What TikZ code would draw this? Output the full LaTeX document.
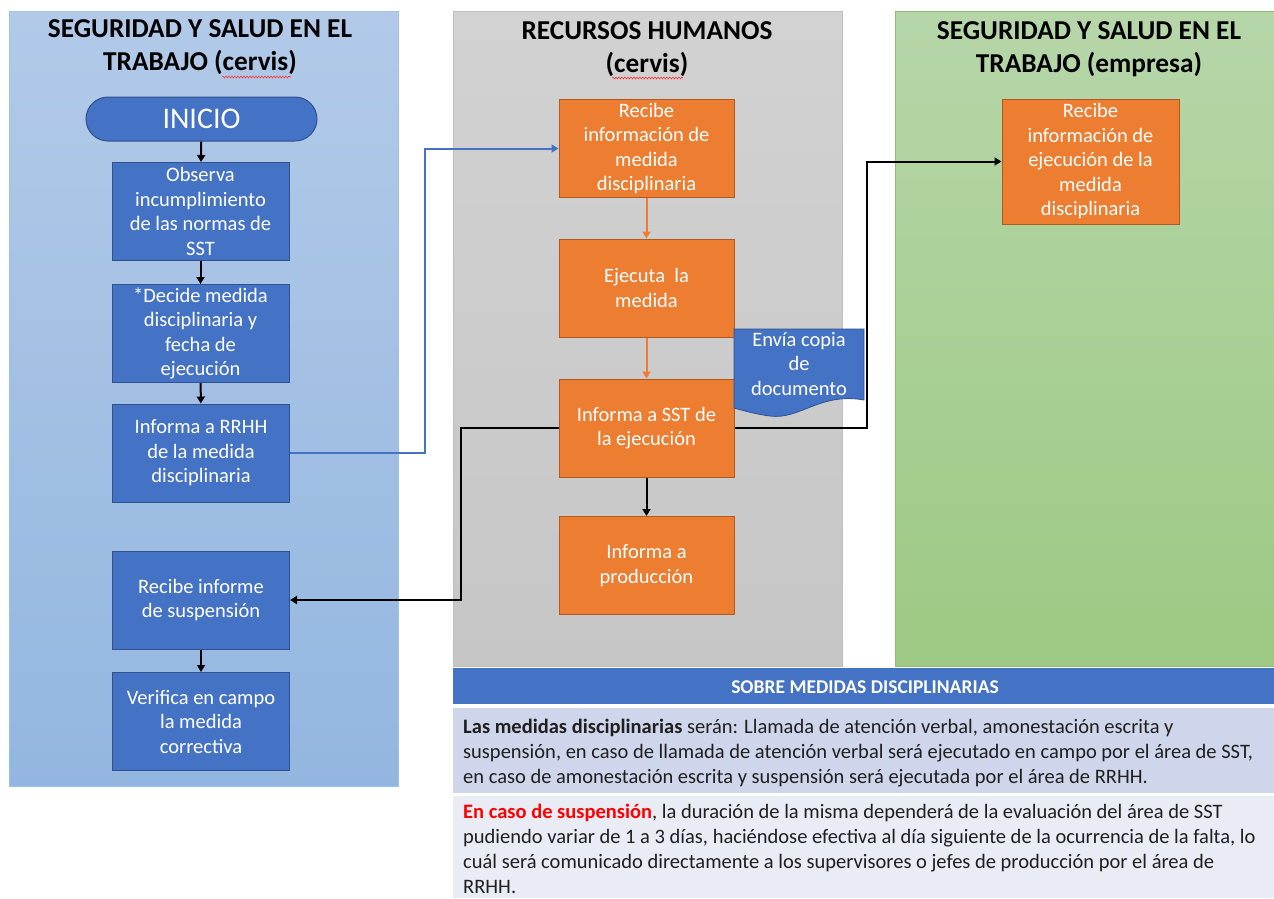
\documentclass[tikz,border=0pt]{standalone}
\usepackage{fontspec}
\setmainfont{Carlito}
\usetikzlibrary{arrows.meta,decorations.pathmorphing}
\definecolor{bxblue}{HTML}{4472C4}
\definecolor{bxblueb}{HTML}{2F528F}
\definecolor{bxor}{HTML}{ED7D31}
\definecolor{bxorb}{HTML}{AE5A21}
\definecolor{laneAt}{HTML}{B2CAE8}
\definecolor{laneAb}{HTML}{93B6E0}
\definecolor{laneAl}{HTML}{9DC3E6}
\definecolor{laneBt}{HTML}{D2D2D2}
\definecolor{laneBb}{HTML}{C6C6C6}
\definecolor{laneBl}{HTML}{BFBFBF}
\definecolor{laneCt}{HTML}{B6D6A9}
\definecolor{laneCb}{HTML}{9DC983}
\definecolor{laneCl}{HTML}{8CC06C}
\definecolor{parA}{HTML}{CFD5EA}
\definecolor{parB}{HTML}{E9EBF5}
\definecolor{txtdark}{HTML}{1F1F1F}
\tikzset{
  lanetitle/.style={align=center,font=\fontsize{27.3}{33}\selectfont\bfseries,text=black},
  boxfont/.style={font=\fontsize{20.5}{24.5}\selectfont},
  bluebox/.style={draw=bxblueb,fill=bxblue,line width=1pt,text=white,align=center,
    minimum width=177pt,minimum height=98pt,inner sep=1pt,boxfont},
  orbox/.style={draw=bxorb,fill=bxor,line width=1pt,text=white,align=center,
    minimum width=175pt,minimum height=98pt,inner sep=1pt,boxfont},
  blkarrow/.style={draw=black,line width=2pt,-{Triangle[length=7pt,width=8pt]}},
  orarrow/.style={draw=bxor,line width=2pt,-{Triangle[length=7pt,width=8pt]}},
  bluearrow/.style={draw=bxblue,line width=2pt,-{Triangle[length=7pt,width=8pt]}},
  squig/.style={draw=red!80,line width=0.6pt,decorate,decoration={snake,amplitude=0.9pt,segment length=3pt}},
  partext/.style={anchor=north west,align=left,text=txtdark,inner sep=0pt,font=\fontsize{20.5}{25}\selectfont}
}
\begin{document}
\begin{tikzpicture}[x=1pt,y=-1pt]
\useasboundingbox[fill=white] (0,0) rectangle (1274,898);
% lanes
\shade[top color=laneAt,bottom color=laneAb] (9,11) rectangle (398,786);
\draw[laneAl,line width=1pt] (9,11) rectangle (398,786);
\shade[top color=laneBt,bottom color=laneBb] (453,11) rectangle (842,666);
\draw[laneBl,line width=1pt] (453,11) rectangle (842,666);
\shade[top color=laneCt,bottom color=laneCb] (895,11) rectangle (1274,666);
\draw[laneCl,line width=1pt] (895,11) rectangle (1274,666);
% titles
\node[lanetitle] (t1) at (200,47) {SEGURIDAD Y SALUD EN EL\\TRABAJO (cervis)};
\node[lanetitle] (t2) at (647,49) {RECURSOS HUMANOS\\(cervis)};
\node[lanetitle] (t3) at (1089,49) {SEGURIDAD Y SALUD EN EL\\TRABAJO (empresa)};
\draw[squig] (222,77) -- (291,77);
\draw[squig] (612,78) -- (683,78);
% lane 1
\node[draw=bxblueb,fill=bxblue,line width=1pt,rounded corners=22pt,minimum width=231pt,minimum height=44pt,
  text=white,font=\fontsize{30}{34}\selectfont] (ini) at (201.5,119) {INICIO};
\node[bluebox] (obs) at (200.5,211.5) {Observa\\incumplimiento\\de las normas de\\SST};
\node[bluebox] (dec) at (200.5,333.5) {*Decide medida\\disciplinaria y\\fecha de\\ejecución};
\node[bluebox] (rrhh) at (201,453) {Informa a RRHH\\de la medida\\disciplinaria};
\node[bluebox] (sus) at (201,600) {Recibe informe\\de suspensión};
\node[bluebox] (ver) at (201,721.5) {Verifica en campo\\la medida\\correctiva};
\draw[blkarrow] (ini) -- (obs);
\draw[blkarrow] (obs) -- (dec);
\draw[blkarrow] (dec) -- (rrhh);
\draw[blkarrow] (sus) -- (ver);
% lane 2
\node[orbox] (rec1) at (646.5,148.5) {Recibe\\información de\\medida\\disciplinaria};
\node[orbox] (eje) at (646.5,288) {Ejecuta~~la\\medida};
\node[orbox] (sst) at (646.5,428) {Informa a SST de\\la ejecución};
\node[orbox] (pro) at (646.5,565.5) {Informa a\\producción};
\draw[orarrow] (rec1) -- (eje);
\draw[orarrow] (eje) -- (sst);
\draw[blkarrow] (sst) -- (pro);
% lane 3
\node[orbox,minimum width=177pt,minimum height=125pt] (rec3) at (1090.5,161.5) {Recibe\\información de\\ejecución de la\\medida\\disciplinaria};
% document shape
\fill[bxblue,draw=bxblueb,line width=0.8pt] (734,329) -- (864,329) -- (864,400)
  .. controls (820,392) and (800,420) .. (770,416) .. controls (755,414) and (745,411) .. (734,408) -- cycle;
\node[text=white,align=center,boxfont] (env) at (799,364) {Envía copia\\de\\documento};
% connectors
\coordinate (cA) at (425,453);
\coordinate (cB) at (867,428);
\coordinate (cC) at (461,428);
\draw[bluearrow] (rrhh.east) -- (cA) |- (rec1.west);
\draw[blkarrow] (sst.east) -- (cB) |- (rec3.west);
\draw[blkarrow] (sst.west) -- (cC) |- (sus.east);
% bottom panel
\fill[bxblue] (453,668) rectangle (1274,704);
\node[text=white,font=\fontsize{19.5}{22}\selectfont\bfseries] (hdr) at (865,687) {SOBRE MEDIDAS DISCIPLINARIAS};
\fill[parA] (453,708) rectangle (1274,793);
\fill[parB] (453,796) rectangle (1274,898);
\node[partext] (p1) at (463,718.5) {\textbf{Las medidas disciplinarias} serán: Llamada de atención verbal, amonestación escrita y\\
suspensión, en caso de llamada de atención verbal será ejecutado en campo por el área de SST,\\
en caso de amonestación escrita y suspensión será ejecutada por el área de RRHH.};
\node[partext] (p2) at (463,804) {{\color{red}\textbf{En caso de suspensión}}, la duración de la misma dependerá de la evaluación del área de SST\\
pudiendo variar de 1 a 3 días, haciéndose efectiva al día siguiente de la ocurrencia de la falta, lo\\
cuál será comunicado directamente a los supervisores o jefes de producción por el área de\\
RRHH.};
\end{tikzpicture}
\end{document}
